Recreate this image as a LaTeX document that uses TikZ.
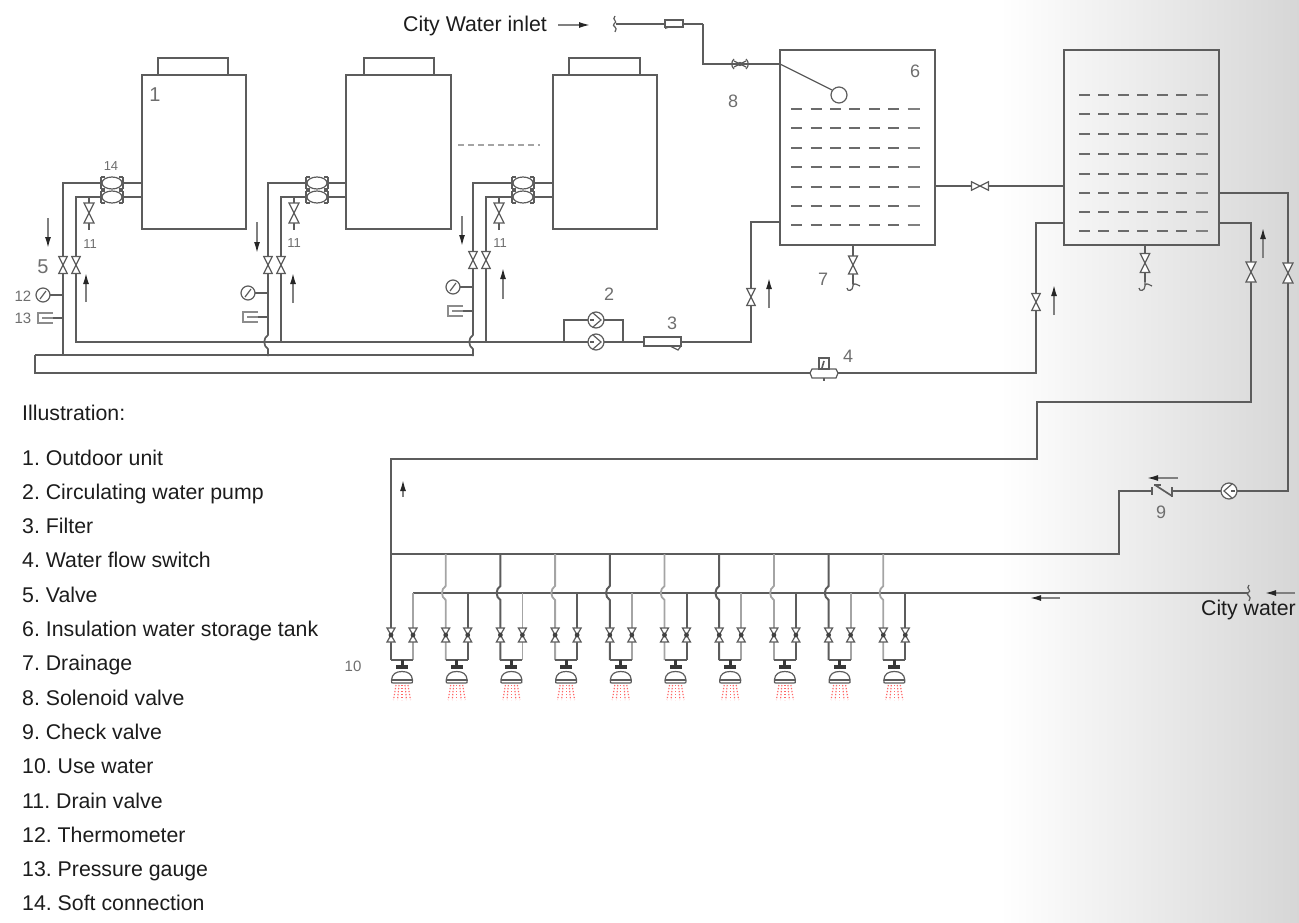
\documentclass[tikz,border=0pt]{standalone}
\usepackage{fontspec}
\setmainfont{Liberation Sans}
\frenchspacing
\usetikzlibrary{arrows.meta}
\definecolor{pipec}{HTML}{5C5C5C}
\definecolor{lightp}{HTML}{A4A4A4}
\definecolor{lab}{HTML}{6E6E6E}
\definecolor{inkc}{HTML}{1C1C1C}
\tikzset{
  x=1pt,y=-1pt,
  pipe/.style={draw=pipec,line width=1.7pt,line join=miter},
  thinp/.style={draw=pipec,line width=1.2pt},
  lpipe/.style={draw=lightp,line width=1.8pt},
  dpipe/.style={draw=pipec,line width=2pt},
  flow/.style={draw=black!50,line width=1.4pt,-{Latex[length=11pt,width=6pt,black!85]}},
  dashrow/.style={draw=black!58,line width=2pt},
  dashend/.style={draw=black!50,line width=1.4pt},
  legend/.style={font=\fontsize{21.3}{24}\selectfont,anchor=base west,text=inkc,inner sep=0pt},
  legendr/.style={font=\fontsize{21.3}{24}\selectfont,anchor=base east,text=inkc,inner sep=0pt},
  tag/.style={font=\fontsize{18}{20}\selectfont,text=lab,inner sep=0pt},
  midtag/.style={font=\fontsize{15}{17}\selectfont,text=lab,inner sep=0pt},
  smalltag/.style={font=\fontsize{13}{15}\selectfont,text=lab,inner sep=0pt},
  bowtie/.pic={\draw[thinp,fill=white] (-5,-10)--(5,-10)--(-5,10)--(5,10)--cycle;},
  bowties/.pic={\draw[thinp,fill=white] (-4,-7)--(4,-7)--(-4,7)--(4,7)--cycle;\fill[pipec!70!black] (0,0) circle (2.4);},
  softconn/.pic={\draw[thinp] (-11,-6)--(-11,6) (11,-6)--(11,6) (-11,-6)--(-7,-6) (7,-6)--(11,-6) (-11,6)--(-7,6) (7,6)--(11,6);\draw[thinp,fill=white] (0,0) ellipse (10 and 6);},
  pump/.pic={\draw[thinp,fill=white] (0,0) circle (8);\draw[thinp] (-3,-7)--(5,0)--(-3,7);\draw[thinp] (-6,0)--(-2,0);},
  thermo/.pic={\draw[thinp,fill=white] (0,0) circle (7);\draw[thinp] (-3,4)--(3,-4);},
  gauge/.pic={\draw[draw=black!45,line width=1.4pt] (8,-5)--(-7,-5)--(-7,5)--(8,5);\draw[draw=black!45,line width=1.6pt] (-3,0)--(8,0);},
  brk/.pic={\draw[thinp] (-1,-8) .. controls (-5,-4) and (3,-3) .. (-2,0) .. controls (-5,2) and (3,3) .. (-1,8);},
  hook/.pic={\draw[thinp] (0,0)--(0,8) .. controls (0,13) and (-6,14) .. (-6,10);\draw[thinp] (0,7) .. controls (3,4) and (4,8) .. (7,8);},
  head/.pic={
    \fill[pipec!60!black] (-1.5,0) rectangle (1.5,9);
    \fill[pipec!60!black] (-6,5) rectangle (6,8.5);
    \draw[thinp,fill=white] (-10.5,20) .. controls (-10,14) and (-6,11.5) .. (0,11.5) .. controls (6,11.5) and (10,14) .. (10.5,20) .. controls (11,23) and (10,23) .. (9,23) -- (-9,23) .. controls (-10,23) and (-11,23) .. (-10.5,20) -- cycle;
    \draw[thinp] (-10.5,20)--(10.5,20);
    \foreach \a/\b in {-6/-8.5,-3/-4.5,0/0,3/4.5,6/8.5}
      \draw[draw=red!60!white,line width=1.2pt,dash pattern=on 1.3pt off 1.7pt] (\a,25)--(\b,40);
  }
}
\begin{document}
\begin{tikzpicture}
\useasboundingbox (0,0) rectangle (1299,923);
\shade[left color=white,right color=black!16] (1000,0) rectangle (1299,923);

% ---- key points
\coordinate (u1a) at (141.7,183); \coordinate (u1b) at (141.7,197);
\coordinate (u2a) at (346,183);   \coordinate (u2b) at (346,197);
\coordinate (u3a) at (553,183);   \coordinate (u3b) at (553,197);
\coordinate (t1in) at (780,222);  \coordinate (t1out) at (935,186);
\coordinate (t2in) at (1064,186); \coordinate (t2ret) at (1064,223);
\coordinate (t2o1) at (1219,223); \coordinate (t2o2) at (1219,193);

% ---- outdoor units
\foreach \xa/\xb/\ca/\cb in {141.7/246/158/228,346/451/364/434,553/657/569/640}{
  \draw[pipe] (\ca,75)--(\ca,58)--(\cb,58)--(\cb,75);
  \draw[pipe] (\xa,75) rectangle (\xb,229);
}
\draw[draw=lightp,line width=1.2pt,dash pattern=on 6pt off 4pt] (458,145)--(540,145);

% ---- pipes from units
\draw[pipe] (u1a)-|(63,355);
\draw[pipe] (u1b)-|(76,342)--(564,342);
\draw[pipe] (u2a)-|(268,335) .. controls (263,338) and (263,346) .. (268,349)--(268,356);
\draw[pipe] (u2b)-|(281,342);
\draw[pipe] (u3a)-|(473,335) .. controls (468,338) and (468,346) .. (473,349)--(473,356);
\draw[pipe] (u3b)-|(486,342);

% ---- header and return
\draw[pipe] (35,355)--(473,355);
\draw[pipe] (35,355)--(35,373)--(1036,373)|-(t2ret);
\draw[pipe] (564,342)--(681,342)--(751,342)|-(t1in);
\draw[pipe] (564,342)--(564,320)--(623,320)--(623,342);

% ---- valves and fittings of units
\foreach \xx/\xm/\xl/\xs/\vy/\ty/\my/\tx/\ex in {
   63/89/76/112/265/295/318/43/53,
   268/294/281/317/265/293/317/248/258,
   473/499/486/523/260/287/311/453/463}{
  \draw[thinp] (\xm,197)--(\xm,230);
  \path (\xm,213) pic {bowtie};
  \path (\xx,\vy) pic[scale=.85] {bowtie};
  \path (\xl,\vy) pic[scale=.85] {bowtie};
  \path (\xs,183) pic {softconn};
  \path (\xs,197) pic {softconn};
  \draw[thinp] (\tx,\ty)--(\xx,\ty);
  \path (\tx,\ty) pic {thermo};
  \draw[thinp] (\ex,\my)--(\xx,\my);
  \path (\ex-8,\my) pic {gauge};
}

% ---- pumps and filter
\path (596,320) pic {pump};
\path (596,342) pic {pump};
\draw[thinp,fill=white] (644,337) rectangle (681,346);
\draw[thinp] (670,346)--(678,350)--(681,346);
\path (751,297) pic[scale=.85] {bowtie};

% ---- tank 1
\draw[pipe] (780,50) rectangle (935,245);
\draw[pipe] (703,24)--(703,64)--(780,64);
\draw[pipe] (616,24)--(703,24);
\draw[thinp,fill=white] (665,20) rectangle (683,27);
\fill[pipec] (665,27)--(674,26)--(665,29)--cycle;
\path (616,24) pic {brk};
\draw[thinp] (780,64)--(832,90);
\draw[thinp,fill=white] (839,95) circle (8);
\draw[thinp] (734,59) .. controls (731,62) and (731,66) .. (734,69);
\draw[thinp] (746,59) .. controls (749,62) and (749,66) .. (746,69);
\draw[thinp] (734,61)--(746,67) (734,67)--(746,61);
\fill[pipec] (740,64) circle (2.2);
\foreach \yy in {109,128,148,167,187,206,225}{
  \foreach \xx in {791,810.5,830,849.4,868.8,888.2}
    \draw[dashrow] (\xx,\yy)--(\xx+11,\yy);
  \draw[dashend] (907.5,\yy)--(919.5,\yy);
}
\draw[thinp] (853,245)--(853,284);
\path (853,265) pic[scale=.9] {bowtie};
\path (853,278) pic {hook};

% ---- link between tanks
\draw[pipe] (t1out)--(t2in);
\path (980,186) pic[rotate=90,scale=.85] {bowtie};

% ---- tank 2
\draw[pipe] (1064,50) rectangle (1219,245);
\foreach \yy in {95,114,134,154,174,193,212,231}{
  \foreach \xx in {1079,1098.4,1117.8,1137.2,1156.6,1176}
    \draw[dashrow] (\xx,\yy)--(\xx+11,\yy);
  \draw[dashend] (1196,\yy)--(1208,\yy);
}
\draw[thinp] (1145,245)--(1145,282);
\path (1145,263) pic[scale=.95] {bowtie};
\path (1145,278) pic {hook};
\path (1036,302) pic[scale=.85] {bowtie};

% ---- flow switch
\draw[thinp,fill=white] (812,369) -- (836,369) -- (838,373) -- (836,378) -- (812,378) -- (810,373) -- cycle;
\draw[thinp,fill=white] (819,358) rectangle (829,369);
\draw[draw=pipec,line width=1.6pt] (824,361)--(822,368);
\draw[thinp] (824,378)--(824,381);

% ---- hot and cold lines to the outlets
\draw[pipe] (t2o1)-|(1251,402)--(1037,402)--(1037,459)--(391,459)--(391,660);
\draw[pipe] (t2o2)-|(1288,491)--(1172,491);
\draw[pipe] (1152,491)--(1119,491)--(1119,554)--(391,554);
\path (1251,272) pic {bowtie};
\path (1288,273) pic {bowtie};
\path (1229,491) pic[rotate=180] {pump};
\draw[pipe] (1152,487)--(1152,495);
\draw[pipe] (1172,487)--(1172,497);
\draw[pipe] (1154,485)--(1161,485);
\draw[pipe] (1155,485)--(1172,496);

% ---- outlets
\draw[pipe] (413,593)--(1248,593);
\path (1250,593) pic {brk};
\foreach \i in {0,...,9}{
  \pgfmathsetmacro{\xl}{391+54.7*\i}
  \pgfmathsetmacro{\xr}{\xl+22}
  \pgfmathsetmacro{\xm}{\xl+11}
  \pgfmathtruncatemacro{\odd}{mod(\i,2)}
  \ifnum\i>0
    \ifnum\odd=1
      \draw[lpipe] (\xl,554)--(\xl,586) .. controls (\xl-5,589) and (\xl-5,597) .. (\xl,600)--(\xl,660);
    \else
      \draw[dpipe] (\xl,554)--(\xl,586) .. controls (\xl-5,589) and (\xl-5,597) .. (\xl,600)--(\xl,660);
    \fi
  \fi
  \ifnum\odd=1
    \draw[dpipe] (\xr,593)--(\xr,660);
  \else
    \draw[lpipe] (\xr,593)--(\xr,660);
  \fi
  \draw[pipe] (\xl,660)--(\xr,660);
  \path (\xl,635) pic {bowties};
  \path (\xr,635) pic {bowties};
  \path (\xm,660) pic {head};
}

% ---- flow arrows
\draw[flow] (48,218)--(48,248);
\draw[flow] (86,302)--(86,273);
\draw[flow] (257,222)--(257,253);
\draw[flow] (293,303)--(293,273);
\draw[flow] (462,216)--(462,246);
\draw[flow] (503,299)--(503,268);
\draw[flow] (769,308)--(769,278);
\draw[flow] (1054,315)--(1054,285);
\draw[flow] (1263,258)--(1263,228);
\draw[flow] (403,497)--(403,480);
\draw[flow] (558,25)--(590,25);
\draw[flow] (1178,478)--(1147,478);
\draw[flow] (1060,598)--(1030,598);
\draw[flow] (1295,593)--(1265,593);

% ---- numbers on the drawing
\node[tag,font=\fontsize{20}{22}\selectfont] (n1) at (155,95) {1};
\node[tag] (n2) at (609,294) {2};
\node[tag] (n3) at (672,323) {3};
\node[tag] (n4) at (848,356) {4};
\node[tag,font=\fontsize{20}{22}\selectfont] (n5) at (43,267) {5};
\node[tag] (n6) at (915,71) {6};
\node[tag] (n7) at (823,279) {7};
\node[tag] (n8) at (733,101) {8};
\node[tag] (n9) at (1161,512) {9};
\node[midtag] (n10) at (353,666) {1{}0};
\node[smalltag] (n11a) at (90,244) {1{}1};
\node[smalltag] (n11b) at (294,243) {1{}1};
\node[smalltag] (n11c) at (500,243) {1{}1};
\node[midtag] (n12) at (23,296) {12};
\node[midtag] (n13) at (23,318) {13};
\node[smalltag] (n14) at (111,166) {14};

% ---- captions
\node[legendr] (inlet) at (547,32) {City Water inlet};
\node[legendr] (cw) at (1296,615) {City water};
\node[legend] (ill) at (22,420) {Illustration:};
\foreach \t [count=\n, evaluate=\n as \yy using {465+34.3*(\n-1)}] in {
  1. Outdoor unit,
  2. Circulating water pump,
  3. Filter,
  4. Water flow switch,
  5. Valve,
  6. Insulation water storage tank,
  7. Drainage,
  8. Solenoid valve,
  9. Check valve,
  10. Use water,
  1{}1. Drain valve,
  12. Thermometer,
  13. Pressure gauge,
  14. Soft connection}{
  \node[legend] (leg\n) at (22,\yy) {\t};
}
\end{tikzpicture}
\end{document}
